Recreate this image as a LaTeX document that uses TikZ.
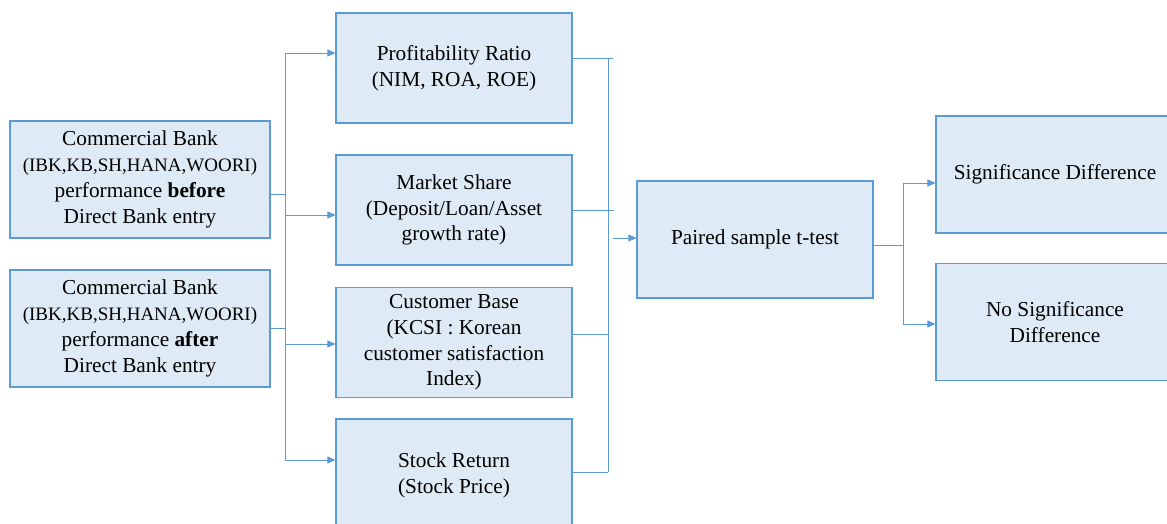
\documentclass[tikz,border=0pt]{standalone}
\usepackage{fontspec}
\newfontfamily\diagfont{Liberation Serif}
\usetikzlibrary{arrows.meta}

\definecolor{boxfill}{HTML}{DEEAF6}
\definecolor{boxline}{HTML}{5B9BD5}

\begin{document}
\begin{tikzpicture}[
    x=1pt, y=1pt,
    box/.style    = {rectangle, draw=boxline, line width=1.1pt, fill=boxfill,
                     align=center, inner sep=2pt,
                     font=\diagfont\fontsize{21.3}{25.8}\selectfont},
    bankbox/.style = {box, minimum width=260pt, minimum height=117pt},
    midbox/.style  = {box, minimum width=236pt, minimum height=110pt},
    resbox/.style  = {box, minimum width=238pt, minimum height=117pt},
    conn/.style   = {draw=boxline, line width=0.9pt},
    arr/.style    = {conn, -{Triangle[length=8pt, width=7pt]}},
]
\useasboundingbox (0,0) rectangle (1167,524);

%% ---- Commercial bank boxes ----

\node[bankbox] (before) at (140,344.5)
    {Commercial Bank\\
     {\fontsize{19}{24.5}\selectfont (IBK,KB,SH,HANA,WOORI)}\\
     performance \textbf{before}\\ Direct Bank entry};
\node[bankbox] (after) at (140,195.5)
    {Commercial Bank\\
     {\fontsize{19}{24.5}\selectfont (IBK,KB,SH,HANA,WOORI)}\\
     performance \textbf{after}\\ Direct Bank entry};

%% ---- Performance measures ----

\node[midbox] (prof)  at (454,456)   {Profitability Ratio\\ (NIM, ROA, ROE)};
\node[midbox] (mkt)   at (454,314)   {Market Share\\ (Deposit/Loan/Asset\\ growth rate)};
\node[midbox] (cust)  at (454,181.5) {Customer Base\\ (KCSI : Korean\\ customer satisfaction\\ Index)};
\node[midbox, minimum height=112pt] (stock) at (454,49) {Stock Return\\ (Stock Price)};

%% ---- Test and results ----

\node[box, minimum width=236pt, minimum height=117pt] (ttest) at (755,284.5) {Paired sample t-test};
\node[resbox] (sig)   at (1055,349.5) {Significance Difference};
\node[resbox] (nosig) at (1055,202)   {No Significance\\ Difference};

%% ---- Left bus ----

\coordinate (lbtop) at (285,471);
\coordinate (lbbot) at (285,64);
\draw[conn] (lbtop) -- (lbbot);
\draw[conn] ([yshift=-14.5pt]before.east) -- ([yshift=-14.5pt]before.east -| lbtop);
\draw[conn] (after.east) -- (after.east -| lbtop);

\draw[arr] (lbtop) -- ([yshift=15pt]prof.west);
\draw[arr] ([yshift=-5pt]mkt.west -| lbtop) -- ([yshift=-5pt]mkt.west);
\draw[arr] ([yshift=-1.5pt]cust.west -| lbtop) -- ([yshift=-1.5pt]cust.west);
\draw[arr] (lbbot) -- ([yshift=15pt]stock.west);

%% ---- Right bus ----

\coordinate (rbtop) at (608,466);
\coordinate (rbbot) at (608,52);
\draw[conn] (rbtop) -- (rbbot);
\draw[conn] ([yshift=10pt]prof.east) -- ++(40pt,0);
\draw[conn] (mkt.east) -- ++(41pt,0);
\draw[conn] ([yshift=8.5pt]cust.east) -- ([yshift=8.5pt]cust.east -| rbtop);
\draw[conn] ([yshift=3pt]stock.east) -- ([yshift=3pt]stock.east -| rbtop);

\coordinate (tin) at (613,286);
\draw[arr] (tin) -- (tin -| ttest.west);

%% ---- Result fork ----

\coordinate (fork) at (903,279);
\draw[conn] (ttest.east |- fork) -- (fork);
\draw[conn] (903,341) -- (903,200);
\draw[arr] (903,341) -- (903,341 -| sig.west);
\draw[arr] (903,200) -- (903,200 -| nosig.west);

\end{tikzpicture}
\end{document}
